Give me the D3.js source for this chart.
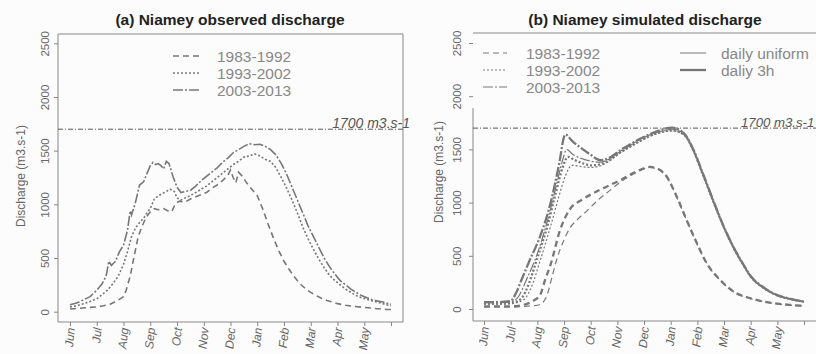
<!DOCTYPE html>
<html><head><meta charset="utf-8">
<script src="https://cdn.jsdelivr.net/npm/d3@7"></script>
<style>
body{margin:0;background:#fcfcfc;}
svg{display:block;font-family:"Liberation Sans",Arial,sans-serif;}
</style></head><body>
<svg id="c" width="816" height="354"></svg>
<script>
// ---------- DATA ----------
const months = ["Jun","Jul","Aug","Sep","Oct","Nov","Dec","Jan","Feb","Mar","Apr","May"];
const yTicks = [0,500,1000,1500,2000,2500];
const threshold = 1700;
const periods = ["1983-1992","1993-2002","2003-2013"];

// Panel (a): observed, [month offset from 1 June, discharge m3/s]
const obs1983 = [[0,25],[0.25,30],[0.5,35],[0.75,40],[1.0,45],[1.25,55],[1.5,70],[1.75,100],[2.0,140],[2.1,200],[2.25,330],[2.4,520],[2.55,700],[2.7,800],[2.85,880],[3.0,930],[3.15,960],[3.3,950],[3.5,960],[3.65,940],[3.8,930],[3.95,1010],[4.1,1030],[4.3,1020],[4.5,1050],[4.7,1070],[4.9,1090],[5.1,1110],[5.3,1150],[5.5,1180],[5.7,1220],[5.9,1270],[6.0,1320],[6.1,1250],[6.2,1200],[6.3,1300],[6.45,1260],[6.6,1200],[6.8,1140],[7.0,1080],[7.2,960],[7.4,820],[7.6,690],[7.8,570],[8.0,470],[8.2,390],[8.4,320],[8.6,260],[8.8,215],[9.0,180],[9.2,150],[9.4,125],[9.6,105],[9.8,90],[10.0,75],[10.3,60],[10.6,50],[11.0,40],[11.4,30],[11.8,22],[12,20]];
const obs1993 = [[0,45],[0.25,55],[0.5,75],[0.75,95],[1.0,120],[1.2,160],[1.4,200],[1.6,260],[1.8,330],[2.0,440],[2.15,560],[2.3,700],[2.45,780],[2.6,830],[2.75,870],[2.9,930],[3.0,960],[3.15,1050],[3.3,1080],[3.45,1100],[3.6,1120],[3.75,1140],[3.9,1120],[4.0,1060],[4.15,1040],[4.3,1060],[4.5,1080],[4.7,1110],[4.9,1140],[5.1,1170],[5.3,1210],[5.5,1250],[5.7,1290],[5.9,1330],[6.1,1370],[6.3,1400],[6.5,1440],[6.7,1450],[6.9,1470],[7.1,1450],[7.3,1420],[7.5,1400],[7.7,1340],[7.9,1250],[8.1,1150],[8.3,1040],[8.5,920],[8.7,790],[8.9,680],[9.1,580],[9.3,490],[9.5,410],[9.7,340],[9.9,290],[10.1,250],[10.3,210],[10.5,180],[10.7,150],[10.9,130],[11.1,115],[11.3,100],[11.5,90],[11.7,75],[11.9,60],[12,55]];
const obs2003 = [[0,65],[0.25,80],[0.5,110],[0.75,140],[1.0,200],[1.2,260],[1.35,330],[1.45,470],[1.55,430],[1.7,470],[1.85,560],[2.0,620],[2.15,760],[2.25,940],[2.3,900],[2.45,1020],[2.6,1180],[2.75,1210],[2.9,1300],[3.0,1360],[3.1,1390],[3.2,1370],[3.3,1380],[3.4,1360],[3.5,1330],[3.6,1400],[3.7,1380],[3.85,1260],[4.0,1160],[4.15,1110],[4.3,1120],[4.5,1130],[4.7,1170],[4.9,1220],[5.1,1260],[5.3,1300],[5.5,1340],[5.7,1390],[5.9,1430],[6.1,1480],[6.3,1510],[6.5,1540],[6.7,1565],[6.9,1555],[7.1,1560],[7.3,1540],[7.5,1510],[7.7,1460],[7.9,1380],[8.1,1280],[8.3,1160],[8.5,1040],[8.7,920],[8.9,800],[9.1,700],[9.3,600],[9.5,500],[9.7,420],[9.9,350],[10.1,290],[10.3,250],[10.5,210],[10.7,180],[10.9,150],[11.1,130],[11.3,110],[11.5,100],[11.7,90],[11.9,75],[12,70]];

// Panel (b): simulated
const sim1983uni = [[0,20],[1.0,20],[1.5,25],[2.0,35],[2.2,60],[2.35,120],[2.55,300],[2.72,460],[3.0,650],[3.22,760],[3.5,840],[3.85,920],[4.3,1030],[4.6,1090],[5.1,1190],[5.7,1280],[6.22,1330],[6.5,1315],[6.85,1240],[7.23,1050],[7.6,832],[7.98,615],[8.35,428],[8.85,272],[9.35,163],[10.0,98],[10.5,68],[11.0,48],[11.5,36],[12,28]];
const sim19833h = [[0,25],[0.5,25],[1.0,25],[1.5,40],[1.8,70],[2.1,130],[2.3,280],[2.5,420],[2.85,740],[3.2,930],[3.7,1030],[4.35,1120],[5.1,1210],[5.7,1290],[6.22,1335],[6.5,1320],[6.85,1245],[7.23,1055],[7.6,836],[7.98,620],[8.35,430],[8.85,275],[9.35,165],[10.0,100],[10.5,70],[11.0,50],[11.5,38],[12,30]];
const sim1993uni = [[0,45],[0.5,45],[1.0,50],[1.5,90],[1.8,220],[2.1,450],[2.5,780],[2.8,1050],[3.05,1250],[3.3,1350],[3.6,1340],[4.0,1330],[4.35,1345],[4.7,1390],[5.1,1465],[5.5,1525],[5.85,1575],[6.2,1620],[6.6,1655],[7.05,1675],[7.5,1635],[7.85,1485],[8.2,1265],[8.6,1005],[9.0,760],[9.35,575],[9.7,422],[10.0,302],[10.5,193],[11.0,126],[11.5,91],[12,66]];
const sim19933h = [[0,50],[0.5,50],[1.0,55],[1.4,100],[1.7,250],[2.0,480],[2.4,800],[2.7,1100],[2.95,1330],[3.15,1430],[3.4,1400],[3.7,1370],[4.0,1350],[4.35,1360],[4.7,1400],[5.1,1470],[5.5,1530],[5.85,1580],[6.2,1625],[6.6,1660],[7.05,1680],[7.5,1640],[7.85,1490],[8.2,1270],[8.6,1010],[9.0,765],[9.35,580],[9.7,425],[10.0,305],[10.5,196],[11.0,128],[11.5,93],[12,68]];
const sim2003uni = [[0,60],[0.5,60],[1.0,65],[1.3,120],[1.6,280],[2.0,520],[2.4,850],[2.7,1150],[2.95,1400],[3.1,1500],[3.3,1460],[3.6,1420],[4.0,1390],[4.35,1380],[4.7,1410],[5.1,1480],[5.5,1540],[5.85,1595],[6.2,1635],[6.6,1670],[7.05,1690],[7.5,1645],[7.85,1495],[8.2,1275],[8.6,1015],[9.0,768],[9.35,582],[9.7,428],[10.0,307],[10.5,197],[11.0,129],[11.5,94],[12,69]];
const sim20033h = [[0,65],[0.5,65],[1.0,75],[1.2,150],[1.4,270],[1.7,450],[2.1,680],[2.5,1000],[2.8,1340],[3.05,1640],[3.3,1580],[3.6,1520],[4.0,1450],[4.35,1400],[4.7,1420],[5.1,1490],[5.5,1550],[5.85,1600],[6.2,1640],[6.6,1680],[7.05,1705],[7.5,1650],[7.85,1500],[8.2,1280],[8.6,1020],[9.0,770],[9.35,585],[9.7,430],[10.0,310],[10.5,200],[11.0,130],[11.5,95],[12,70]];

// ---------- STYLES ----------
const dashes = {"1983-1992":"6,4","1993-2002":"2,2","2003-2013":"10,2,2,2"};
const lineCol = "#777";
const txtCol = "#666";

const svg = d3.select("#c");
svg.append("rect").attr("width",816).attr("height",354).attr("fill","#fcfcfc");

function panel(opt){
  const x = d3.scaleLinear().domain([0,12]).range(opt.xr);
  const y = d3.scaleLinear().domain([0,2500]).range(opt.yr);
  const g = svg.append("g");
  const b = opt.box;
  g.append("path").attr("d", opt.boxPath).attr("fill","none").attr("stroke","#888").attr("stroke-width",1);
  const ya = d3.axisLeft(y).tickValues(yTicks).tickSize(4).tickFormat(d3.format("d"));
  const yg = g.append("g").attr("transform",`translate(${b.l},0)`).call(ya);
  yg.select(".domain").remove();
  yg.selectAll(".tick line").attr("stroke","#888");
  yg.selectAll(".tick text").attr("fill",txtCol).attr("font-size",11.5)
    .attr("x",null).attr("dy",null).attr("text-anchor","middle")
    .attr("transform",`translate(${opt.ytx - b.l},0) rotate(-90)`);
  const xa = d3.axisBottom(x).tickValues(d3.range(13)).tickSize(4).tickFormat(i => i<12 ? months[i] : "");
  const xg = g.append("g").attr("transform",`translate(0,${b.b})`).call(xa);
  xg.select(".domain").remove();
  xg.selectAll(".tick line").attr("stroke","#888");
  xg.selectAll(".tick text").attr("fill",txtCol).attr("font-size",12).attr("font-style","italic")
    .attr("y",null).attr("dy",null).attr("text-anchor","end")
    .attr("transform","translate(4.5,6) rotate(-84)");
  svg.append("text").attr("x",opt.tx).attr("y",25).attr("text-anchor","middle")
    .attr("font-weight","bold").attr("font-size",15.5).attr("fill","#222").text(opt.title);
  svg.append("text").attr("transform",`translate(${opt.ylx},${opt.ylc}) rotate(-90)`)
    .attr("text-anchor","middle").attr("font-size",12).attr("fill",txtCol).text("Discharge (m3.s-1)");
  g.append("line").attr("x1",b.l).attr("x2",b.r).attr("y1",y(threshold)).attr("y2",y(threshold))
    .attr("stroke","#444").attr("stroke-width",0.9).attr("stroke-dasharray","5,2,1,2");
  g.append("text").attr("x",opt.thx).attr("y",y(threshold)-1).attr("text-anchor",opt.tha)
    .attr("font-style","italic").attr("font-size",opt.ths).attr("fill","#555").text("1700 m3.s-1");
  return {x,y,g};
}

const line = (x,y,curve) => d3.line().x(d=>x(d[0])).y(d=>y(d[1])).curve(curve);

// Panel a
const A = panel({xr:[70,391], yr:[311.7,43.3], box:{l:58,r:403,t:34,b:322},
  boxPath:"M58,34H403V322H58Z", ytx:49, tx:230, title:"(a) Niamey observed discharge",
  ylx:25, ylc:176, thx:410, tha:"end", ths:14});
const obsSeries = [[obs1983,"1983-1992"],[obs1993,"1993-2002"],[obs2003,"2003-2013"]];
obsSeries.forEach(([d,p])=>{
  A.g.append("path").datum(d).attr("d",line(A.x,A.y,d3.curveLinear))
    .attr("fill","none").attr("stroke",lineCol).attr("stroke-width",1.6)
    .attr("stroke-dasharray",dashes[p]);
});
periods.forEach((p,i)=>{
  const yy = 56 + i*17;
  svg.append("line").attr("x1",173).attr("x2",200).attr("y1",yy).attr("y2",yy)
    .attr("stroke",lineCol).attr("stroke-width",1.3).attr("stroke-dasharray",dashes[p]);
  svg.append("text").attr("x",217).attr("y",yy+5.5).attr("font-size",15.5).attr("fill","#888").text(p);
});

// Panel b
const B = panel({xr:[484,804], yr:[309,43], box:{l:473,r:830,t:33,b:321},
  boxPath:"M473,108V321H830M473,33H830", ytx:461, tx:645, title:"(b) Niamey simulated discharge",
  ylx:443, ylc:172, thx:741, tha:"start", ths:13.2});
const simSeries = [[sim1983uni,"1983-1992",1.2],[sim1993uni,"1993-2002",1.2],[sim2003uni,"2003-2013",1.2],
                   [sim19833h,"1983-1992",2.3],[sim19933h,"1993-2002",2.3],[sim20033h,"2003-2013",2.3]];
simSeries.forEach(([d,p,w])=>{
  B.g.append("path").datum(d).attr("d",line(B.x,B.y,d3.curveMonotoneX))
    .attr("fill","none").attr("stroke",lineCol).attr("stroke-width",w)
    .attr("stroke-dasharray",dashes[p]);
});
periods.forEach((p,i)=>{
  const yy = 53 + i*17;
  svg.append("line").attr("x1",483).attr("x2",507).attr("y1",yy).attr("y2",yy)
    .attr("stroke",lineCol).attr("stroke-width",1.2).attr("stroke-dasharray",dashes[p]);
  svg.append("text").attr("x",526).attr("y",yy+5.5).attr("font-size",15.5).attr("fill","#888").text(p);
});
[["daily uniform",1],["daliy 3h",2.3]].forEach(([t,w],i)=>{
  const yy = 53 + i*17;
  svg.append("line").attr("x1",680).attr("x2",706).attr("y1",yy).attr("y2",yy)
    .attr("stroke",lineCol).attr("stroke-width",w);
  svg.append("text").attr("x",721).attr("y",yy+5.5).attr("font-size",15.5).attr("fill","#888").text(t);
});
</script></body></html>
